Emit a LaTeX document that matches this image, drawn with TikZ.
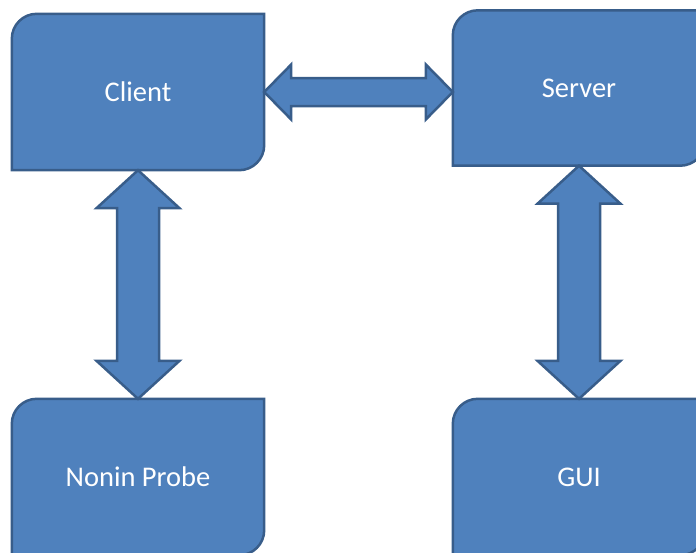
\documentclass[tikz,border=0pt]{standalone}
\usepackage{fontspec}
\setmainfont{Carlito}
\usetikzlibrary{calc,backgrounds}
\definecolor{boxfill}{HTML}{4F81BD}
\definecolor{boxedge}{HTML}{385D8A}
\tikzset{
  shapeline/.style={fill=boxfill, draw=boxedge, line width=2.5pt, line join=miter},
  boxnode/.style={minimum width=252pt, minimum height=156pt, inner sep=0pt, text=white, font=\fontsize{28.5}{32}\selectfont}
}
\newcommand{\rdbox}[1]{%
  \draw[shapeline] (#1.south west) -- ([yshift=-25pt]#1.north west)
    arc[start angle=180,end angle=90,radius=25pt] -- (#1.north east)
    -- ([yshift=25pt]#1.south east)
    arc[start angle=0,end angle=-90,radius=25pt] -- cycle;}
\newcommand{\dblarrowV}[2]{%
  \draw[shapeline] (#1) -- ++(41.5,38) -- ++(-20.5,0) -- ($(#2)+(21,-38)$)
    -- ++(20.5,0) -- (#2) -- ++(-41.5,-38) -- ++(20.5,0)
    -- ($(#1)+(-21,38)$) -- ++(-20.5,0) -- cycle;}
\newcommand{\dblarrowH}[2]{%
  \draw[shapeline] (#1) -- ++(27,-27.5) -- ++(0,13.5) -- ($(#2)+(-27,-14)$)
    -- ++(0,-13.5) -- (#2) -- ++(-27,27.5) -- ++(0,-13.5)
    -- ($(#1)+(27,14)$) -- ++(0,13.5) -- cycle;}
\begin{document}
\begin{tikzpicture}[x=1pt,y=-1pt]
\useasboundingbox (0,0) rectangle (696,552);
\clip (0,0) rectangle (696,552);
\node[boxnode] (client) at (138,92) {Client};
\node[boxnode, minimum height=155pt] (server) at (579,88) {Server};
\node[boxnode] (nonin) at (138,477) {Nonin Probe};
\node[boxnode] (gui) at (579,477) {GUI};
\begin{scope}[on background layer]
  \rdbox{client}
  \rdbox{server}
  \rdbox{nonin}
  \rdbox{gui}
\end{scope}
\coordinate (hA) at (client.east);
\coordinate (hB) at (client.east -| server.west);
\dblarrowH{hA}{hB}
\dblarrowV{client.south}{nonin.north}
\dblarrowV{server.south}{gui.north}
\end{tikzpicture}
\end{document}
